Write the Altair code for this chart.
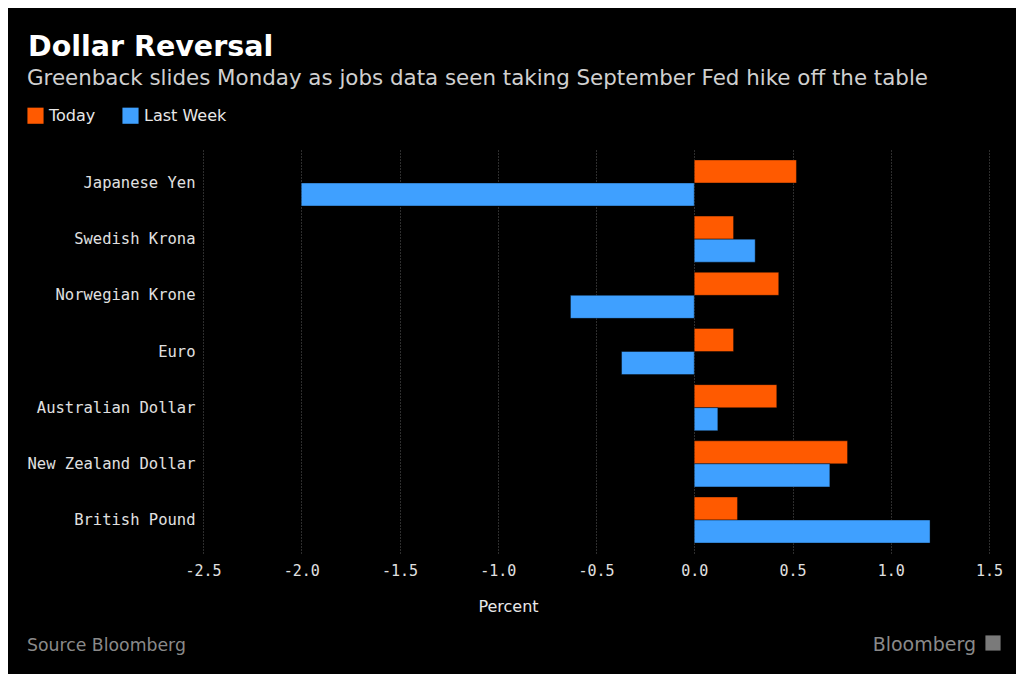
import altair as alt
import pandas as pd

currencies = ["Japanese Yen", "Swedish Krona", "Norwegian Krone", "Euro",
              "Australian Dollar", "New Zealand Dollar", "British Pound"]
today = [0.52, 0.20, 0.43, 0.20, 0.42, 0.78, 0.22]
last_week = [-2.00, 0.31, -0.63, -0.37, 0.12, 0.69, 1.20]
series_names = ["Today", "Last Week"]
series_colors = ["#FF5A00", "#3FA0FF"]
x_ticks = [-2.5, -2.0, -1.5, -1.0, -0.5, 0.0, 0.5, 1.0, 1.5]

title_text = "Dollar Reversal"
subtitle_text = "Greenback slides Monday as jobs data seen taking September Fed hike off the table"
source_text = "Source Bloomberg"
brand_text = "Bloomberg"

rows = []
for c, t, l in zip(currencies, today, last_week):
    rows.append({"currency": c, "series": "Today", "value": t})
    rows.append({"currency": c, "series": "Last Week", "value": l})
df = pd.DataFrame(rows)

W, H = 786, 403

bars = alt.Chart(df).mark_bar(stroke="#000000", strokeOpacity=0.4, strokeWidth=1).encode(
    x=alt.X("value:Q",
            scale=alt.Scale(domain=[-2.5, 1.5], nice=False, zero=False),
            axis=alt.Axis(values=x_ticks, title="Percent", grid=True, gridColor="#5a5a5a",
                          gridDash=[1, 2], gridWidth=1, ticks=False, domain=False,
                          labelFlush=False,
                          labelExpr="datum.value < 0 ? '-' + format(-datum.value, '.1f') : format(datum.value, '.1f')",
                          labelFont="DejaVu Sans Mono", labelFontSize=15, labelColor="#e0e0e0",
                          labelPadding=10,
                          titleFont="DejaVu Sans", titleFontSize=16, titleFontWeight="normal",
                          titleColor="#e8e8e8", titleX=305, titleY=58, titleAlign="center",
                          titleBaseline="alphabetic")),
    y=alt.Y("currency:N", sort=currencies,
            scale=alt.Scale(paddingInner=0.18, paddingOuter=0.177),
            axis=alt.Axis(title=None, ticks=False, domain=False, grid=False,
                          labelFont="DejaVu Sans Mono", labelFontSize=15.5, labelColor="#e0e0e0",
                          labelPadding=8)),
    yOffset=alt.YOffset("series:N", sort=series_names,
                        scale=alt.Scale(domain=series_names, paddingInner=0, paddingOuter=0)),
    color=alt.Color("series:N", sort=series_names,
                    scale=alt.Scale(domain=series_names, range=series_colors),
                    legend=alt.Legend(title=None, orient="none", legendX=-176, legendY=-43,
                                      direction="horizontal", symbolType="square",
                                      symbolSize=260, symbolStrokeWidth=0, symbolOpacity=1,
                                      labelFont="DejaVu Sans", labelFontSize=16,
                                      labelColor="#e8e8e8", columnPadding=26, labelOffset=5)),
)

one = pd.DataFrame({"a": [0]})

title = alt.Chart(one).mark_text(text=title_text, font="DejaVu Sans", fontSize=28.5,
                                 fontWeight="bold", color="#ffffff", align="left",
                                 baseline="alphabetic").encode(
    x=alt.value(-175), y=alt.value(-94))
subtitle = alt.Chart(one).mark_text(text=subtitle_text, font="DejaVu Sans", fontSize=21.4,
                                    color="#d0d0d0", align="left",
                                    baseline="alphabetic").encode(
    x=alt.value(-176), y=alt.value(-65))
source = alt.Chart(one).mark_text(text=source_text, font="DejaVu Sans", fontSize=17.3,
                                  color="#8a8a8a", align="left",
                                  baseline="alphabetic").encode(
    x=alt.value(-176), y=alt.value(501))
brand = alt.Chart(one).mark_text(text=brand_text, font="DejaVu Sans", fontSize=19,
                                 color="#8a8a8a", align="right",
                                 baseline="alphabetic").encode(
    x=alt.value(773), y=alt.value(501))
icon = alt.Chart(one).mark_square(size=230, color="#7a7a7a", opacity=1,
                                  cornerRadius=2).encode(
    x=alt.value(790), y=alt.value(493))

chart = alt.layer(bars, title, subtitle, source, brand, icon).properties(
    width=W, height=H, background="#000000",
    padding={"left": 195, "top": 142, "right": 27, "bottom": 121},
    autosize=alt.AutoSizeParams(type="none"),
).configure_view(stroke=None)

chart.save("out.html", embed_options={"renderer": "svg", "actions": False})
